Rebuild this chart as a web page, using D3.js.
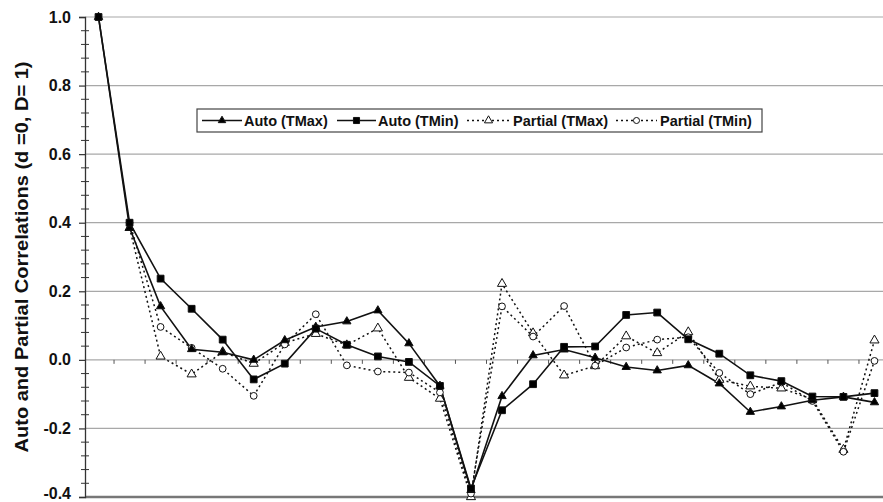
<!DOCTYPE html>
<html><head><meta charset="utf-8">
<script src="https://cdn.jsdelivr.net/npm/d3@7"></script>
<style>html,body{margin:0;padding:0;background:#fff;overflow:hidden}</style>
</head><body>
<svg id="c" width="883" height="502"></svg>
<script>
const lags = d3.range(0, 26);
const autoTMax = [1.0, 0.385, 0.156, 0.031, 0.022, 0.0, 0.057, 0.096, 0.112, 0.144, 0.048, -0.076, -0.38, -0.106, 0.013, 0.030, 0.006, -0.021, -0.031, -0.016, -0.069, -0.152, -0.136, -0.118, -0.108, -0.124];
const autoTMin = [1.0, 0.40, 0.237, 0.149, 0.059, -0.057, -0.011, 0.091, 0.044, 0.010, -0.006, -0.076, -0.375, -0.147, -0.071, 0.038, 0.039, 0.131, 0.138, 0.060, 0.018, -0.045, -0.062, -0.107, -0.108, -0.097];
const partialTMax = [null, 0.385, 0.010, -0.042, 0.023, -0.011, 0.050, 0.076, 0.043, 0.092, -0.052, -0.113, -0.40, 0.222, 0.078, -0.045, -0.018, 0.069, 0.020, 0.081, -0.058, -0.077, -0.083, -0.115, -0.262, 0.057];
const partialTMin = [null, 0.40, 0.096, 0.035, -0.026, -0.105, 0.045, 0.133, -0.016, -0.034, -0.037, -0.095, -0.39, 0.156, 0.068, 0.157, -0.017, 0.036, 0.059, 0.066, -0.038, -0.100, -0.066, -0.120, -0.268, -0.003];
const seriesNames = ["Auto (TMax)", "Auto (TMin)", "Partial (TMax)", "Partial (TMin)"];
const yTicks = [-0.4, -0.2, 0, 0.2, 0.4, 0.6, 0.8, 1.0];
const yTickLabels = ["-0.4", "-0.2", "0.0", "0.2", "0.4", "0.6", "0.8", "1.0"];
const yTitle = "Auto and Partial Correlations (d =0, D= 1)";

(function () {
const svg = d3.select("#c");
const font = "'Liberation Sans', Arial, sans-serif";
const pl = 83, pr = 890, pt = 17, pb = 497;

const x = d3.scalePoint().domain(lags).range([pl, pr]).padding(0.5);
const xb = d3.scaleBand().domain(lags).range([pl, pr]);
const y = d3.scaleLinear().domain([-0.4, 1.0]).range([pb, pt]);

// gridlines
svg.append("g").selectAll("line").data(yTicks).join("line")
  .attr("x1", pl + 2).attr("x2", 883)
  .attr("y1", d => y(d)).attr("y2", d => y(d))
  .attr("stroke", d => d === -0.4 ? "#777" : "#a8a8a8")
  .attr("stroke-width", d => d === -0.4 ? 2.5 : 1.2);

// zero axis ticks
svg.append("g").selectAll("line").data(lags.slice(1)).join("line")
  .attr("x1", d => xb(d)).attr("x2", d => xb(d))
  .attr("y1", y(0)).attr("y2", y(0) + 4)
  .attr("stroke", "#555").attr("stroke-width", 1);

// y axis
const yAxis = d3.axisLeft(y).tickValues(yTicks).tickSize(6).tickPadding(8)
  .tickFormat((d, i) => yTickLabels[i]);
const ga = svg.append("g").attr("transform", `translate(${pl + 2},0)`).call(yAxis);
ga.select(".domain").attr("stroke", "#333").attr("stroke-width", 1.3);
ga.selectAll(".tick line").attr("stroke", "#333").attr("stroke-width", 1.2);
ga.selectAll(".tick text").attr("font-family", font).attr("font-weight", "bold")
  .attr("font-size", 16).attr("fill", "#111")
  .attr("dy", (d, i) => i === 0 ? "0.1em" : "0.32em");
// minor ticks
const minor = d3.range(-0.4, 1.0001, 0.04).filter(v => Math.abs(Math.round(v * 5) - v * 5) > 0.01);
svg.append("g").selectAll("line").data(minor).join("line")
  .attr("x1", pl - 2).attr("x2", pl + 6)
  .attr("y1", d => y(d)).attr("y2", d => y(d))
  .attr("stroke", "#333").attr("stroke-width", 1);

// y title
svg.append("text")
  .attr("transform", `translate(28,257) rotate(-90)`)
  .attr("text-anchor", "middle")
  .attr("font-family", font).attr("font-weight", "bold").attr("font-size", 19)
  .attr("textLength", 391).attr("lengthAdjust", "spacingAndGlyphs")
  .attr("fill", "#111")
  .text(yTitle);

const series = [
  {name: seriesNames[0], values: autoTMax, dash: null, sym: d3.symbolTriangle, size: 30, fill: "#000"},
  {name: seriesNames[1], values: autoTMin, dash: null, sym: d3.symbolSquare, size: 46, fill: "#000"},
  {name: seriesNames[2], values: partialTMax, dash: "2,3", sym: d3.symbolTriangle, size: 36, fill: "#fff"},
  {name: seriesNames[3], values: partialTMin, dash: "2,3", sym: d3.symbolCircle, size: 36, fill: "#fff"}
];

const line = d3.line().defined(d => d.v !== null).x(d => x(d.lag)).y(d => y(d.v));

[2, 3, 0, 1].forEach(i => {
  const s = series[i];
  const pts = lags.map(l => ({lag: l, v: s.values[l]}));
  svg.append("path").datum(pts).attr("d", line)
    .attr("fill", "none").attr("stroke", "#111")
    .attr("stroke-width", s.dash ? 1.5 : 1.6)
    .attr("stroke-dasharray", s.dash);
});
[2, 3, 0, 1].forEach(i => {
  const s = series[i];
  const pts = lags.map(l => ({lag: l, v: s.values[l]})).filter(d => d.v !== null);
  svg.append("g").selectAll("path").data(pts).join("path")
    .attr("d", d3.symbol().type(s.sym).size(s.size))
    .attr("transform", d => `translate(${x(d.lag)},${y(d.v)})`)
    .attr("fill", s.fill).attr("stroke", "#111").attr("stroke-width", 1);
});

// legend
const lg = svg.append("g");
lg.append("rect").attr("x", 197).attr("y", 109).attr("width", 565).attr("height", 23)
  .attr("fill", "#fff").attr("stroke", "#444").attr("stroke-width", 1.2);
const items = [
  {x1: 202, x2: 242, tx: 244},
  {x1: 337, x2: 376, tx: 378},
  {x1: 467, x2: 510, tx: 513},
  {x1: 616, x2: 657, tx: 660}
];
items.forEach((it, i) => {
  const s = series[i];
  const cy = 120.5;
  lg.append("line").attr("x1", it.x1).attr("x2", it.x2).attr("y1", cy).attr("y2", cy)
    .attr("stroke", "#111").attr("stroke-width", 1.5).attr("stroke-dasharray", s.dash);
  lg.append("path").attr("d", d3.symbol().type(s.sym).size(s.size * 0.8))
    .attr("transform", `translate(${(it.x1 + it.x2) / 2},${cy})`)
    .attr("fill", s.fill).attr("stroke", "#111").attr("stroke-width", 1);
  lg.append("text").attr("x", it.tx).attr("y", cy + 5)
    .attr("font-family", font).attr("font-weight", "bold").attr("font-size", 14.5)
    .attr("fill", "#111").text(s.name);
});
})();
</script>
</body></html>
